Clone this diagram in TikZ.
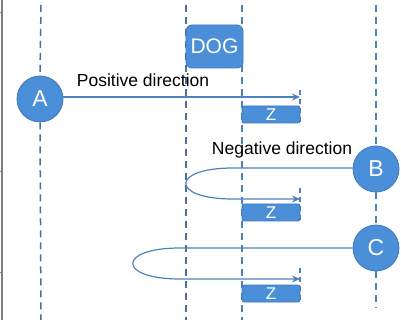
\documentclass[tikz,border=0pt]{standalone}
\usepackage{fontspec}
\setmainfont{Liberation Sans}
\usetikzlibrary{arrows.meta}

\definecolor{nodeblue}{HTML}{4A8FD8}
\definecolor{nodeedge}{HTML}{3D78BC}
\definecolor{flowblue}{HTML}{4F81BD}
\definecolor{lanegray}{HTML}{4F6F95}

\tikzset{
  lane/.style={draw=lanegray, line width=1.5pt, dash pattern=on 7pt off 5pt},
  agent/.style={circle, fill=nodeblue, draw=nodeedge, line width=0.8pt,
    minimum size=46pt, inner sep=0pt, text=white, font=\fontsize{23}{26}\selectfont},
  dogbox/.style={rectangle, rounded corners=6pt, fill=nodeblue, draw=nodeedge,
    line width=0.8pt, text=white, font=\fontsize{21}{24}\selectfont},
  zbox/.style={rectangle, rounded corners=2pt, fill=nodeblue, draw=nodeedge,
    line width=0.8pt, text=white, inner sep=0pt, font=\fontsize{17}{17}\selectfont},
  flow/.style={draw=flowblue, line width=1.2pt},
  flowarrow/.style={flow, -{Stealth[length=8pt,width=7pt]}},
  caption/.style={font=\fontsize{17.5}{20}\selectfont, text=black}
}

\begin{document}
\begin{tikzpicture}[x=1pt, y=-1pt]
    \useasboundingbox (0,0) rectangle (401,320);
    \draw[gray, line width=1.2pt] (2,0) -- (2,320);
    \foreach \t in {13,172,272} \draw[gray, line width=1pt] (0,\t) -- (2,\t);

    % agents and boxes
    \node[agent] (A) at (40,99) {A};
    \node[agent] (B) at (376,169) {B};
    \node[agent] (C) at (376,248) {C};

    % lanes
    \draw[lane] (41,5) -- (A.north);
    \draw[lane] (A.south) -- (41,320);
    \draw[lane] (186,5) -- (186,320);
    \draw[lane, draw=flowblue] (242,5) -- (242,320);
    \draw[lane, draw=flowblue] (376,5) -- (B.north);
    \draw[lane, draw=flowblue] (B.south) -- (C.north);
    \draw[lane, draw=flowblue] (C.south) -- (376,308);
    \foreach \a/\b in {90/123,188/221,268/302}
        \draw[lane, draw=flowblue, line width=1.2pt, dash pattern=on 5pt off 4pt] (300,\a) -- (300,\b);

    \node[dogbox, minimum width=57pt, minimum height=43pt] (dog) at (214.5,46.5) {DOG};
    \node[zbox, minimum width=58pt, minimum height=17pt] (z1) at (271,114.5) {Z};
    \node[zbox, minimum width=58pt, minimum height=17pt] (z2) at (271,212.5) {Z};
    \node[zbox, minimum width=58pt, minimum height=17pt] (z3) at (271,293.5) {Z};

    % flows
    \coordinate (e1) at (300,97);
    \coordinate (e2) at (300,199);
    \coordinate (e3) at (300,279);
    \coordinate (t2) at (233,168);
    \coordinate (t3) at (180,248);
    \draw[flowarrow] (A.east |- e1) -- (e1);
    \draw[flowarrow] (B.west |- t2) -- (t2)
        .. controls (170,168) and (170,199) .. (233,199) -- (e2);
    \draw[flowarrow] (C.west |- t3) -- (t3)
        .. controls (117,248) and (117,279) .. (180,279) -- (e3);

    \node[caption] (pos) at (143,80) {Positive direction};
    \node[caption] (neg) at (282,150) {Negative direction};
\end{tikzpicture}
\end{document}
